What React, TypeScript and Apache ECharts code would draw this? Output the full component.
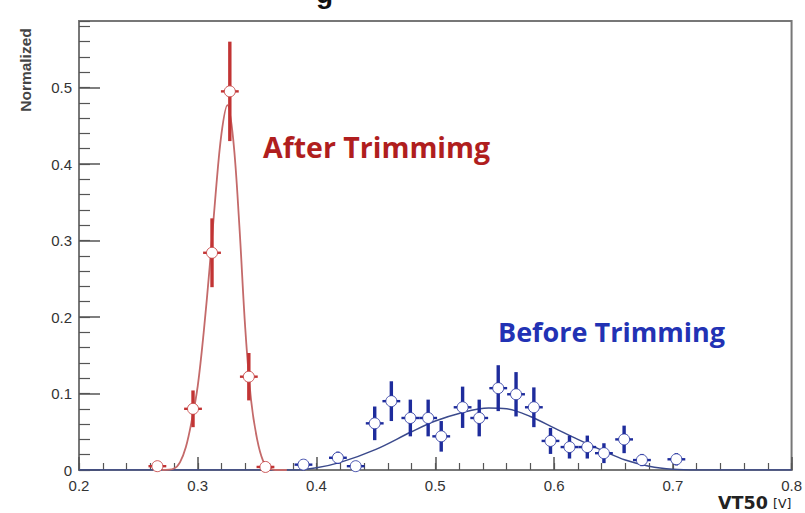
import React, { useEffect, useRef } from "react";
import * as echarts from "echarts";

// Measured points after trimming: bin centre, normalized entries, statistical error
const afterX = [0.266, 0.296, 0.312, 0.327, 0.343, 0.357];
const afterY = [0.005, 0.08, 0.284, 0.495, 0.122, 0.004];
const afterErr = [0.004, 0.024, 0.045, 0.065, 0.031, 0.004];

// Measured points before trimming
const beforeX = [0.389, 0.418, 0.433, 0.449, 0.463, 0.479, 0.494, 0.505, 0.523, 0.537, 0.553, 0.568, 0.583, 0.597, 0.613, 0.628, 0.642, 0.659, 0.674, 0.703];
const beforeY = [0.007, 0.016, 0.005, 0.061, 0.09, 0.068, 0.068, 0.044, 0.082, 0.068, 0.107, 0.099, 0.082, 0.038, 0.03, 0.03, 0.022, 0.04, 0.013, 0.014];
const beforeErr = [0.004, 0.008, 0.005, 0.022, 0.026, 0.024, 0.024, 0.02, 0.027, 0.024, 0.03, 0.029, 0.026, 0.017, 0.015, 0.015, 0.013, 0.018, 0.008, 0.008];

// Gaussian fit curves
const afterFitX = [0.27, 0.28, 0.285, 0.29, 0.295, 0.3, 0.305, 0.31, 0.315, 0.32, 0.325, 0.33, 0.335, 0.34, 0.345, 0.35, 0.355, 0.36, 0.365, 0.375];
const afterFitY = [0, 0.002, 0.01, 0.03, 0.065, 0.11, 0.18, 0.265, 0.36, 0.44, 0.477, 0.43, 0.32, 0.185, 0.09, 0.04, 0.012, 0.003, 0, 0];
const beforeFitX = [0.2, 0.38, 0.4, 0.42, 0.45, 0.48, 0.5, 0.52, 0.545, 0.56, 0.58, 0.6, 0.62, 0.64, 0.66, 0.68, 0.7, 0.72, 0.8];
const beforeFitY = [0, 0, 0.003, 0.01, 0.027, 0.05, 0.064, 0.074, 0.081, 0.08, 0.07, 0.055, 0.04, 0.026, 0.013, 0.005, 0.001, 0, 0];

const xTicks = [0.2, 0.3, 0.4, 0.5, 0.6, 0.7, 0.8];
const HALF_BIN = 0.0075;

const RED = "#c23434";
const RED_FIT = "#c46a6a";
const BLUE = "#1e2c9c";
const BLUE_FIT = "#3b4a8c";

function zip(xs: number[], ys: number[], es?: number[]) {
  return xs.map((x, i) => (es ? [x, ys[i], es[i]] : [x, ys[i]]));
}

function errorRenderer(color: string) {
  return (_params: any, api: any) => {
    const x = api.value(0);
    const y = api.value(1);
    const e = api.value(2);
    const c = api.coord([x, y]);
    const top = api.coord([x, y + e]);
    const bot = api.coord([x, Math.max(0, y - e)]);
    const l = api.coord([x - HALF_BIN, y]);
    const r = api.coord([x + HALF_BIN, y]);
    return {
      type: "group",
      children: [
        { type: "rect", shape: { x: c[0] - 1.7, y: top[1], width: 3.4, height: Math.max(1, bot[1] - top[1]) }, style: { fill: color } },
        { type: "line", shape: { x1: l[0], y1: c[1], x2: r[0], y2: c[1] }, style: { stroke: color, lineWidth: 2.4 } },
        { type: "circle", shape: { cx: c[0], cy: c[1], r: 5.5 }, style: { fill: "#ffffff", stroke: color, lineWidth: 0.8 } },
      ],
    };
  };
}

export default function App() {
  const ref = useRef<HTMLDivElement>(null);
  useEffect(() => {
    if (!ref.current) return;
    const chart = echarts.init(ref.current, undefined, { renderer: "svg" });
    const labelStyle = { color: "#333333", fontSize: 15, fontFamily: "Liberation Sans" };
    chart.setOption({
      animation: false,
      backgroundColor: "#ffffff",
      grid: { left: 79, right: 10, top: 21, bottom: 43, show: true, borderColor: "#777777", borderWidth: 2, backgroundColor: "transparent" },
      xAxis: [
        {
          type: "value", min: 0.2, max: 0.8, interval: 0.1,
          axisLine: { show: true, lineStyle: { color: "#777777", width: 2 } },
          axisTick: { show: true, inside: true, length: 13, lineStyle: { color: "#555", width: 1.5 } },
          splitLine: { show: false },
          axisLabel: { ...labelStyle, margin: 8, formatter: (v: number) => (xTicks.some((t) => Math.abs(t - v) < 1e-6) ? v.toFixed(1) : "") },
        },
        {
          type: "value", min: 0.2, max: 0.8, interval: 0.02, position: "bottom",
          axisLine: { show: false },
          axisTick: { show: true, inside: true, length: 7, lineStyle: { color: "#555", width: 1.2 } },
          splitLine: { show: false },
          axisLabel: { show: false },
        },
      ],
      yAxis: [
        {
          type: "value", min: 0, max: 0.587, interval: 0.1,
          axisLine: { show: true, lineStyle: { color: "#777777", width: 2 } },
          axisTick: { show: true, inside: true, length: 21, lineStyle: { color: "#555", width: 1.5 } },
          splitLine: { show: false },
          axisLabel: {
            ...labelStyle, margin: 7, showMaxLabel: false,
            formatter: (v: number) => {
              if (Math.abs(v * 10 - Math.round(v * 10)) > 1e-6) return "";
              return v === 0 ? "0" : v.toFixed(1);
            },
          },
        },
        {
          type: "value", min: 0, max: 0.587, interval: 0.02, position: "left",
          axisLine: { show: false },
          axisTick: { show: true, inside: true, length: 11, lineStyle: { color: "#555", width: 1.2 } },
          splitLine: { show: false },
          axisLabel: { show: false },
        },
      ],
      graphic: [
        { type: "text", left: 316, top: -21, style: { text: "g", font: "bold 28px 'Liberation Sans'", fill: "#111" } },
        { type: "text", x: 25, y: 70, rotation: Math.PI / 2, style: { text: "Normalized", font: "bold 15.5px 'Liberation Sans'", fill: "#444", align: "center", verticalAlign: "middle" } },
        { type: "text", x: 263, y: 147, style: { text: "After Trimmimg", font: "bold 28.5px 'Open Sans'", fill: "#b01e1e", verticalAlign: "middle" } },
        { type: "text", x: 498, y: 331, style: { text: "Before Trimming", font: "bold 27px 'Open Sans'", fill: "#2232b4", verticalAlign: "middle" } },
        { type: "text", x: 718, y: 503, style: { text: "VT50", font: "bold 17.5px 'DejaVu Sans'", fill: "#222", verticalAlign: "middle" } },
        { type: "text", x: 773, y: 503, style: { text: "[V]", font: "12.5px 'DejaVu Sans'", fill: "#222", verticalAlign: "middle" } },
      ],
      series: [
        {
          type: "line", xAxisIndex: 0, yAxisIndex: 0, data: zip(beforeFitX, beforeFitY), smooth: 0.35,
          showSymbol: false, lineStyle: { color: BLUE_FIT, width: 1.5 }, z: 2,
        },
        {
          type: "line", xAxisIndex: 0, yAxisIndex: 0, data: zip(afterFitX, afterFitY), smooth: 0.35,
          showSymbol: false, lineStyle: { color: RED_FIT, width: 1.8 }, z: 2,
        },
        {
          type: "custom", xAxisIndex: 0, yAxisIndex: 0, data: zip(beforeX, beforeY, beforeErr),
          renderItem: errorRenderer(BLUE), z: 5,
        },
        {
          type: "custom", xAxisIndex: 0, yAxisIndex: 0, data: zip(afterX, afterY, afterErr),
          renderItem: errorRenderer(RED), z: 5,
        },
      ],
    });
    return () => chart.dispose();
  }, []);
  return <div ref={ref} style={{ position: "fixed", left: 0, top: 0, width: 805, height: 513 }} />;
}
